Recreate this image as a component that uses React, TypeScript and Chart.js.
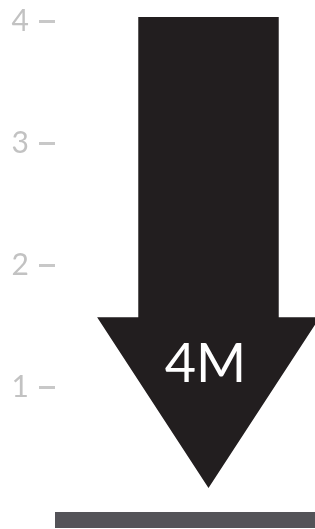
import React, { useEffect, useRef } from "react";
import { Chart, registerables } from "chart.js";

Chart.register(...registerables);

const categories = ["4M"];
const values = [4];
const valueLabels = ["4M"];
const yTicks = [1, 2, 3, 4];

const arrowPlugin = {
  id: "arrowPlugin",
  beforeDatasetsDraw(chart: any) {
    const { ctx, chartArea } = chart;
    ctx.save();
    ctx.fillStyle = "#545358";
    ctx.fillRect(chartArea.left, chartArea.bottom + 3, chartArea.right - chartArea.left, 16);
    ctx.restore();
  },
  afterDatasetsDraw(chart: any) {
    const { ctx } = chart;
    const meta = chart.getDatasetMeta(0);
    meta.data.forEach((bar: any, i: number) => {
      const { x, y, base, width } = bar.getProps(["x", "y", "base", "width"], true);
      const h = base - y;
      const half = width / 2;
      const headHalf = half * 1.586;
      const headTop = y + h * 0.607;
      const tip = y + h * 0.957;
      ctx.save();
      ctx.fillStyle = "#221e1f";
      ctx.beginPath();
      ctx.moveTo(x - half, y - 4);
      ctx.lineTo(x + half, y - 4);
      ctx.lineTo(x + half, headTop);
      ctx.lineTo(x + headHalf, headTop);
      ctx.lineTo(x, tip);
      ctx.lineTo(x - headHalf, headTop);
      ctx.lineTo(x - half, headTop);
      ctx.closePath();
      ctx.fill();
      ctx.fillStyle = "#ffffff";
      ctx.font = "400 54px Lato, 'Open Sans', sans-serif";
      ctx.textAlign = "center";
      ctx.textBaseline = "middle";
      ctx.fillText(valueLabels[i], x - 3, y + h * 0.705);
      ctx.restore();
    });
  },
};

export default function App() {
  const ref = useRef<HTMLCanvasElement | null>(null);
  useEffect(() => {
    document.body.style.margin = "0";
    const chart = new Chart(ref.current as HTMLCanvasElement, {
      type: "bar",
      data: {
        labels: categories,
        datasets: [
          {
            data: values,
            backgroundColor: "rgba(0,0,0,0)",
            barPercentage: 140 / 306,
            categoryPercentage: 1,
          },
        ],
      },
      options: {
        animation: false,
        responsive: true,
        maintainAspectRatio: false,
        layout: { padding: { top: 21, bottom: 20, left: 10, right: 0 } },
        plugins: { legend: { display: false }, tooltip: { enabled: false } },
        scales: {
          x: { display: false },
          y: {
            min: 0,
            max: 4,
            afterBuildTicks(scale: any) {
              scale.ticks = yTicks.map((v) => ({ value: v }));
            },
            afterFit(scale: any) {
              scale.width = 45;
              scale.paddingTop = 0;
              scale.paddingBottom = 0;
            },
            border: { display: false },
            grid: {
              drawOnChartArea: false,
              drawTicks: true,
              tickLength: 16,
              tickWidth: 3,
              tickColor: "#c8c8c8",
            },
            ticks: {
              padding: 10,
              color: "#c2c2c2",
              font: { family: "Lato, 'Open Sans', sans-serif", size: 30, weight: 400 as any },
            },
          },
        },
      },
      plugins: [arrowPlugin],
    });
    return () => chart.destroy();
  }, []);
  return (
    <div style={{ width: 315, height: 529, overflow: "hidden" }}>
      <div style={{ width: 362, height: 529, position: "relative" }}>
        <canvas ref={ref} />
      </div>
    </div>
  );
}
